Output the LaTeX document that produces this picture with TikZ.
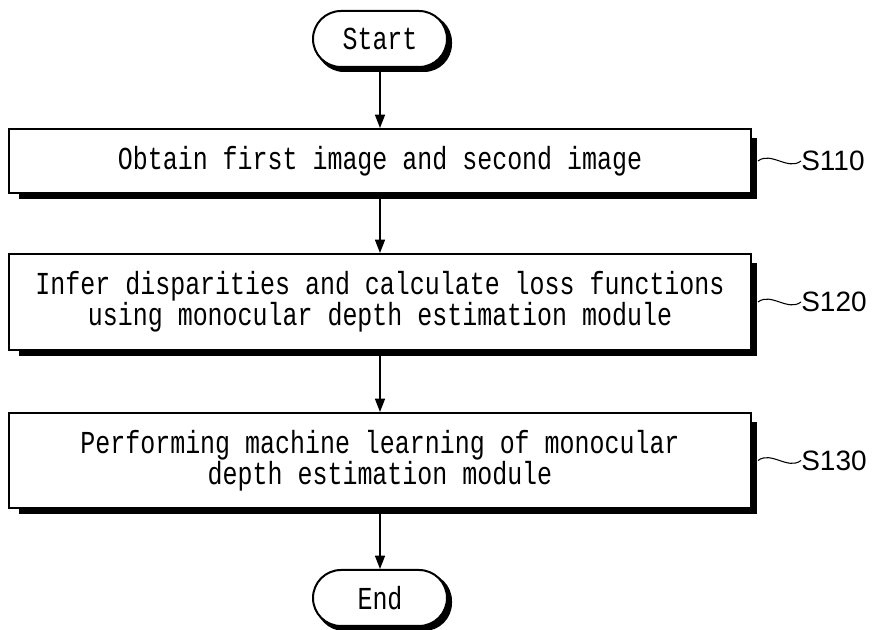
\documentclass[tikz,border=0pt]{standalone}
\usepackage{fontspec}
\newfontfamily\boxfont[FakeStretch=0.78]{Liberation Mono}
\newfontfamily\labelfont{Liberation Sans}
\usetikzlibrary{arrows.meta,calc,backgrounds}
\begin{document}
\begin{tikzpicture}[x=0.75pt,y=-0.75pt,
  txt/.style={font=\boxfont\fontsize{24}{23.25}\selectfont},
  stepbox/.style={draw,line width=1.5pt,fill=white,minimum width=556.5pt,inner sep=0pt,align=center,txt},
  term/.style={draw,line width=1.5pt,fill=white,rounded corners=21pt,minimum width=100.5pt,minimum height=42pt,inner sep=0pt,txt},
  flow/.style={line width=1.1pt,-{Triangle[length=10pt,width=7.5pt]}},
  squig/.style={line width=0.8pt},
  tag/.style={font=\labelfont\fontsize{21}{24}\selectfont,anchor=west,inner sep=0pt}]
\useasboundingbox (0,0) rectangle (872,630);

\node[term] (start) at (380,39) {Start};
\node[stepbox,minimum height=48pt] (b1) at (380,161) {Obtain first image and second image};
\node[stepbox,minimum height=72pt] (b2) at (380,302) {Infer disparities and calculate loss functions\\using monocular depth estimation module};
\node[stepbox,minimum height=71.25pt] (b3) at (380,460.5) {Performing machine learning of monocular\\depth estimation module};
\node[term] (end) at (380,598) {End};

\begin{scope}[on background layer]
  \fill[black,rounded corners=21pt] ($(start.north west)+(4,4)$) rectangle ($(start.south east)+(4,4)$);
  \fill[black,rounded corners=21pt] ($(end.north west)+(4,4)$) rectangle ($(end.south east)+(4,4)$);
  \foreach \b in {b1,b2,b3}
    \fill[black] ($(\b.north west)+(11,10)$) rectangle ($(\b.south east)+(5,5)$);
\end{scope}

\draw[flow] (start) -- (b1);
\draw[flow] (b1.south) ++(0,5) -- (b2.north);
\draw[flow] (b2.south) ++(0,5) -- (b3.north);
\draw[flow] (b3.south) ++(0,5) -- (end.north);

\node[tag] (t1) at (801,161) {S110};
\node[tag] (t2) at (801,302) {S120};
\node[tag] (t3) at (801,460.5) {S130};

\foreach \b/\t in {b1/t1,b2/t2,b3/t3}
  \draw[squig] ($(\b.east)+(6,0)$) .. controls +(13,-10) and +(-13,10) .. (\t.west);
\end{tikzpicture}
\end{document}
